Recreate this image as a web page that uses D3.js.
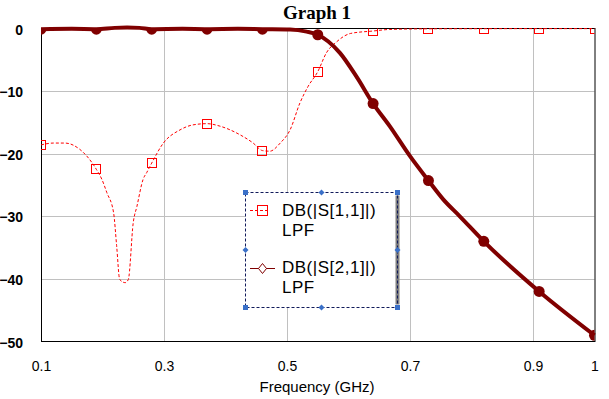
<!DOCTYPE html>
<html>
<head>
<meta charset="utf-8">
<script src="https://cdn.jsdelivr.net/npm/d3@7"></script>
<style>
  body { margin: 0; background: #fff; }
  svg { display: block; }
</style>
</head>
<body>
<svg id="chart"></svg>
<script>
// ticks
const xTicks = [0.1, 0.3, 0.5, 0.7, 0.9, 1];
const yTicks = [0, -10, -20, -30, -40, -50];
const markerFreqs = [0.1, 0.19, 0.28, 0.37, 0.46, 0.55, 0.64, 0.73, 0.82, 0.91, 1.0];

// DB(|S[1,1]|) LPF
const s11Freq = [0.1, 0.12, 0.139, 0.163, 0.19, 0.199, 0.207, 0.218, 0.223, 0.228, 0.237, 0.242, 0.25, 0.256, 0.266, 0.272, 0.28, 0.299, 0.326, 0.347, 0.37, 0.391, 0.424, 0.445, 0.46, 0.472, 0.489, 0.505, 0.521, 0.534, 0.55, 0.564, 0.581, 0.603, 0.64, 0.667, 0.73, 0.82, 0.91, 1.0];
const s11dB = [-18.6, -18.3, -18.3, -19.3, -22.5, -24.1, -26.2, -29.4, -34.7, -40.1, -40.6, -40.1, -31.0, -28.4, -24.1, -23.0, -21.5, -18.3, -16.2, -15.4, -15.2, -15.6, -17.0, -18.3, -19.5, -19.6, -18.3, -16.2, -11.9, -9.3, -6.9, -3.9, -2.1, -0.8, -0.4, -0.15, -0.05, -0.03, -0.02, -0.02];

// DB(|S[2,1]|) LPF
const s21Freq = [0.1, 0.15, 0.19, 0.22, 0.24, 0.26, 0.28, 0.33, 0.37, 0.42, 0.46, 0.505, 0.532, 0.55, 0.586, 0.613, 0.64, 0.667, 0.7, 0.73, 0.754, 0.781, 0.82, 0.91, 1.0];
const s21dB = [-0.1, -0.05, -0.1, 0.1, 0.15, 0.1, -0.1, -0.05, -0.1, -0.05, -0.1, -0.15, -0.5, -1.0, -3.9, -7.7, -12.0, -15.6, -20.4, -24.3, -27.3, -30.0, -34.0, -42.0, -49.0];

const legendNames = ["DB(|S[1,1]|)", "DB(|S[2,1]|)"];
const legendSub = "LPF";

var w = 609;
var h = 399;
let plot = ({ left: 41, right: 594.5, top: 28.5, bottom: 341.5 });

var svg = d3.select("#chart")
    .attr("width", w)
    .attr("height", h)
    .style("font-family", "'Liberation Sans', Arial, sans-serif");

var xScale = d3.scaleLinear()
    .domain([0.1, 1])
    .range([plot.left, plot.right]);

var yScale = d3.scaleLinear()
    .domain([0, -50])
    .range([plot.top, plot.bottom]);

const px = v => Math.round(v) + 0.5;

svg.append("defs").append("clipPath")
    .attr("id", "plotClip")
    .append("rect")
    .attr("x", plot.left)
    .attr("y", plot.top)
    .attr("width", plot.right - plot.left)
    .attr("height", plot.bottom - plot.top);

// grid
const grid = svg.append("g");
grid.selectAll("line.vx")
    .data(xTicks.filter(t => t > 0.1 && t < 1))
    .join("line")
    .attr("x1", d => px(xScale(d)))
    .attr("x2", d => px(xScale(d)))
    .attr("y1", plot.top)
    .attr("y2", plot.bottom)
    .attr("stroke", "#c0c0c0")
    .attr("stroke-width", 1);
grid.selectAll("line.hy")
    .data(yTicks.filter(t => t < 0 && t > -50))
    .join("line")
    .attr("x1", plot.left)
    .attr("x2", plot.right)
    .attr("y1", d => px(yScale(d)))
    .attr("y2", d => px(yScale(d)))
    .attr("stroke", "#c0c0c0")
    .attr("stroke-width", 1);

// frame (series are drawn over it)
svg.append("rect")
    .attr("x", plot.left + 0.5)
    .attr("y", plot.top)
    .attr("width", plot.right - plot.left)
    .attr("height", plot.bottom - plot.top)
    .attr("fill", "none")
    .attr("stroke", "#000")
    .attr("stroke-width", 1);

// axes labels
const xAxis = g => g
    .attr("transform", `translate(0,${plot.bottom})`)
    .call(d3.axisBottom(xScale).tickValues(xTicks).tickSize(0).tickPadding(20).tickFormat(d3.format("")))
    .call(g => g.select(".domain").remove())
    .call(g => g.selectAll("text")
        .attr("fill", "#000")
        .style("font-size", "14px")
        .style("font-family", "'Liberation Sans', Arial, sans-serif"));
svg.append("g").call(xAxis);

const yAxis = g => g
    .attr("transform", `translate(${plot.left},0)`)
    .call(d3.axisLeft(yScale).tickValues(yTicks).tickSize(0).tickPadding(18).tickFormat(d3.format("")))
    .call(g => g.select(".domain").remove())
    .call(g => g.selectAll("text")
        .attr("fill", "#000")
        .attr("dy", "0.4em")
        .style("font-size", "14px")
        .style("font-weight", "bold")
        .style("font-family", "'Liberation Sans', Arial, sans-serif"));
svg.append("g").call(yAxis);

svg.append("text")
    .attr("x", 317)
    .attr("y", 392)
    .attr("text-anchor", "middle")
    .style("font-size", "15px")
    .text("Frequency (GHz)");

svg.append("text")
    .attr("x", 317)
    .attr("y", 18.5)
    .attr("text-anchor", "middle")
    .style("font-family", "'Liberation Serif', 'Times New Roman', serif")
    .style("font-weight", "bold")
    .style("font-size", "19px")
    .text("Graph 1");

// series
const s11 = s11Freq.map((f, i) => ({ f: f, v: s11dB[i] }));
const s21 = s21Freq.map((f, i) => ({ f: f, v: s21dB[i] }));

const line = d3.line()
    .x(d => xScale(d.f))
    .y(d => yScale(d.v))
    .curve(d3.curveMonotoneX);

svg.append("path")
    .datum(s11)
    .attr("d", line)
    .attr("fill", "none")
    .attr("stroke", "#ff0000")
    .attr("stroke-width", 1)
    .attr("stroke-dasharray", "3,2");

svg.append("path")
    .datum(s21)
    .attr("d", line)
    .attr("fill", "none")
    .attr("stroke", "#800000")
    .attr("stroke-width", 4)
    .attr("stroke-linejoin", "round");

const markers = svg.append("g").attr("clip-path", "url(#plotClip)");

markers.selectAll("circle")
    .data(s21.filter(d => markerFreqs.includes(d.f)))
    .join("circle")
    .attr("cx", d => xScale(d.f))
    .attr("cy", d => yScale(d.v))
    .attr("r", 5.5)
    .attr("fill", "#800000");

markers.selectAll("rect")
    .data(s11.filter(d => markerFreqs.includes(d.f)))
    .join("rect")
    .attr("x", d => Math.round(xScale(d.f)) - 4.5)
    .attr("y", d => Math.round(yScale(d.v)) - 4.5)
    .attr("width", 9)
    .attr("height", 9)
    .attr("fill", "none")
    .attr("stroke", "#ff0000")
    .attr("stroke-width", 1);

// legend
let lg = ({ x: 245.5, y: 192.5, w: 152, h: 115 });
const legend = svg.append("g");

legend.append("rect")
    .attr("x", lg.x)
    .attr("y", lg.y)
    .attr("width", lg.w)
    .attr("height", lg.h)
    .attr("fill", "#fff");

legend.append("rect")
    .attr("x", lg.x + lg.w - 2)
    .attr("y", lg.y + 3)
    .attr("width", 4)
    .attr("height", lg.h - 6)
    .attr("fill", "#808080");

legend.append("rect")
    .attr("x", lg.x)
    .attr("y", lg.y)
    .attr("width", lg.w)
    .attr("height", lg.h)
    .attr("fill", "none")
    .attr("stroke", "#101a5a")
    .attr("stroke-width", 1)
    .attr("stroke-dasharray", "3,2");

legendNames.forEach((name, i) => {
    const base = lg.y + 23 + i * 57;
    legend.append("text")
        .attr("x", 282)
        .attr("y", base)
        .style("font-size", "17px")
        .style("letter-spacing", "0.5px")
        .text(name);
    legend.append("text")
        .attr("x", 282)
        .attr("y", base + 20)
        .style("font-size", "17px")
        .style("letter-spacing", "0.5px")
        .text(legendSub);
});

// legend symbols
legend.append("line")
    .attr("x1", 250).attr("x2", 270)
    .attr("y1", 210.5).attr("y2", 210.5)
    .attr("stroke", "#ff0000")
    .attr("stroke-dasharray", "3,2");
legend.append("rect")
    .attr("x", 257.5).attr("y", 205.5)
    .attr("width", 10).attr("height", 10)
    .attr("fill", "none")
    .attr("stroke", "#ff0000");

legend.append("line")
    .attr("x1", 250).attr("x2", 275)
    .attr("y1", 268.5).attr("y2", 268.5)
    .attr("stroke", "#800000");
legend.append("path")
    .attr("d", "M262.5,263.5 L266.5,268.5 L262.5,273.5 L258.5,268.5 Z")
    .attr("fill", "#fff")
    .attr("stroke", "#800000");

// selection handles
const handleColor = "#3a70c8";
const corners = [[lg.x, lg.y], [lg.x + lg.w, lg.y], [lg.x, lg.y + lg.h], [lg.x + lg.w, lg.y + lg.h]];
const mids = [[lg.x + lg.w / 2, lg.y], [lg.x, lg.y + lg.h / 2], [lg.x + lg.w, lg.y + lg.h / 2], [lg.x + lg.w / 2, lg.y + lg.h]];

legend.selectAll("rect.corner")
    .data(corners)
    .join("rect")
    .attr("class", "corner")
    .attr("x", d => d[0] - 2.5)
    .attr("y", d => d[1] - 2.5)
    .attr("width", 5)
    .attr("height", 5)
    .attr("fill", handleColor);

legend.selectAll("path.mid")
    .data(mids)
    .join("path")
    .attr("class", "mid")
    .attr("d", d => `M${d[0]},${d[1] - 3} L${d[0] + 3},${d[1]} L${d[0]},${d[1] + 3} L${d[0] - 3},${d[1]} Z`)
    .attr("fill", handleColor);
</script>
</body>
</html>
